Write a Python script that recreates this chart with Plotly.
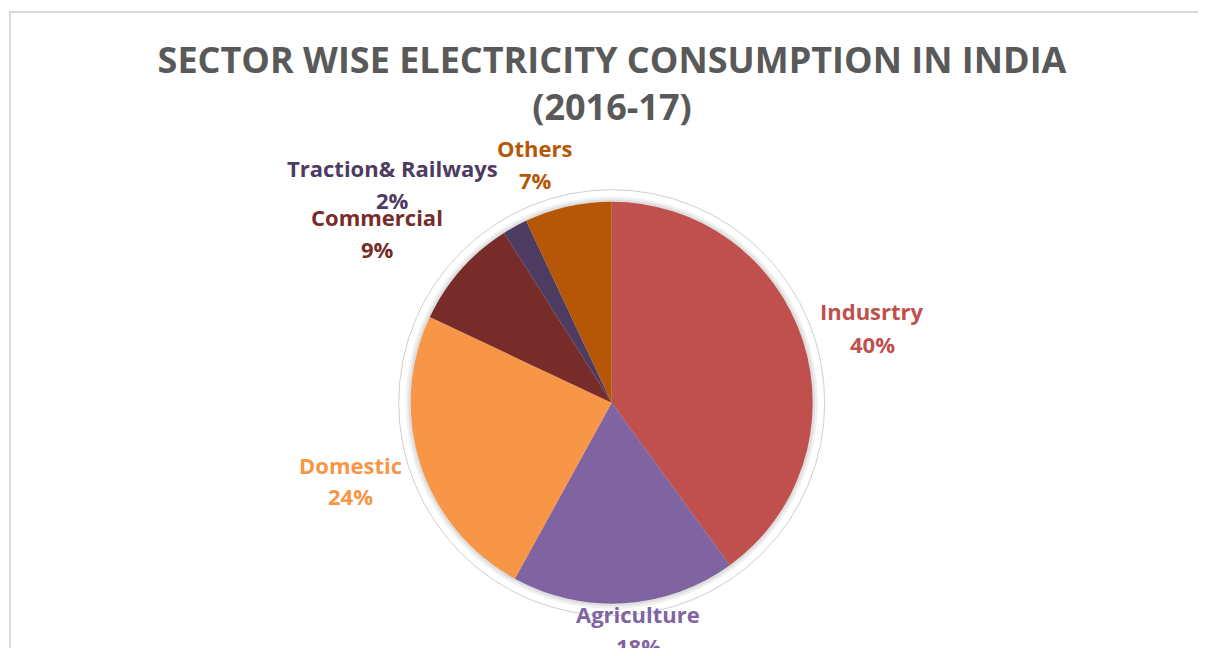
import plotly.graph_objects as go

# données
secteurs = ['Indusrtry', 'Agriculture', 'Domestic', 'Commercial', 'Traction& Railways', 'Others']
parts = [40, 18, 24, 9, 2, 7]
couleurs = ['#C0504D', '#8064A2', '#F79646', '#772C2A', '#4D3B62', '#B65708']

# la page html ajoute une marge de 8px autour de la figure
OFF = 8
W, H = 1206 - 2 * OFF, 656 - 2 * OFF
cx, cy, r = 611.7, 402.7, 201  # centre et rayon du camembert (pixels de la page)

def px_x(x):
    return (x - OFF) / W

def px_y(y):
    return 1 - (y - OFF) / H

fig = go.Figure(go.Pie(
    labels=secteurs,
    values=parts,
    marker=dict(colors=couleurs, line=dict(width=0)),
    sort=False,
    direction='clockwise',
    rotation=0,
    textinfo='none',
    hoverinfo='label+percent',
    showlegend=False,
    domain=dict(x=[px_x(cx - r), px_x(cx + r)], y=[px_y(cy + r), px_y(cy - r)]),
))

# position des étiquettes : (x, y du nom, y du pourcentage), pixels de la page
pos_etiquettes = {
    'Indusrtry': (872, 311, 344),
    'Agriculture': (638, 614, 646),
    'Domestic': (350, 465, 496),
    'Commercial': (377, 217, 249),
    'Traction& Railways': (392, 168, 200),
    'Others': (535, 148, 180),
}

total = sum(parts)
for nom, val, coul in zip(secteurs, parts, couleurs):
    x, y1, y2 = pos_etiquettes[nom]
    for txt, y in ((nom, y1), ('{}%'.format(round(100 * val / total)), y2)):
        fig.add_annotation(
            x=px_x(x), y=px_y(y), xref='paper', yref='paper',
            text='<b>{}</b>'.format(txt),
            showarrow=False, xanchor='center', yanchor='middle',
            font=dict(family='Open Sans', size=22, color=coul),
        )

# cadre, halo et ombre autour du camembert
formes = [
    dict(type='rect', xref='paper', yref='paper',
         x0=px_x(10), x1=px_x(1240), y0=px_y(700), y1=px_y(12),
         line=dict(color='#D9D9D9', width=2), fillcolor='rgba(0,0,0,0)', layer='below'),
    dict(type='circle', xref='paper', yref='paper',
         x0=px_x(cx - 213), x1=px_x(cx + 213), y0=px_y(cy + 213), y1=px_y(cy - 213),
         line=dict(color='#CFCFCF', width=1), fillcolor='white', layer='below'),
    dict(type='circle', xref='paper', yref='paper',
         x0=px_x(cx - 206), x1=px_x(cx + 206), y0=px_y(cy + 206), y1=px_y(cy - 206),
         line=dict(width=0), fillcolor='rgba(0,0,0,0.06)', layer='below'),
    dict(type='circle', xref='paper', yref='paper',
         x0=px_x(cx - 203.5), x1=px_x(cx + 203.5), y0=px_y(cy + 203.5), y1=px_y(cy - 203.5),
         line=dict(width=0), fillcolor='rgba(0,0,0,0.07)', layer='below'),
]

fig.update_layout(
    width=W, height=H,
    margin=dict(l=0, r=0, t=0, b=0),
    paper_bgcolor='white',
    plot_bgcolor='white',
    font=dict(family='Open Sans'),
    title=dict(
        text='<b>SECTOR WISE ELECTRICITY CONSUMPTION IN INDIA<br>(2016-17)</b>',
        x=px_x(612), xanchor='center', y=px_y(73), yanchor='middle',
        font=dict(family='Open Sans', size=36, color='#595959'),
    ),
    shapes=formes,
)

fig.write_html("out.html")
